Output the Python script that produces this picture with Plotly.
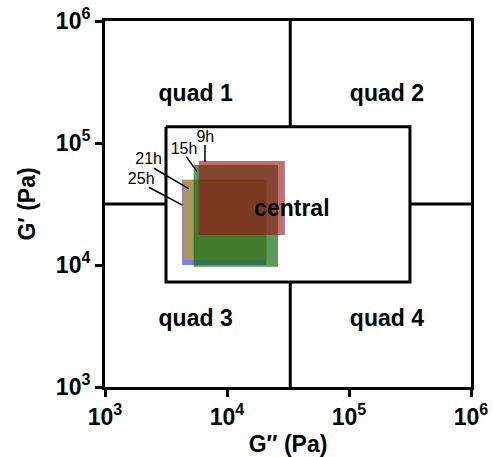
import plotly.graph_objects as go

# ---- data ----
FONT = "Liberation Sans, Arial, sans-serif"
tick_vals = [1e3, 1e4, 1e5, 1e6]
tick_text = ["10<sup>3</sup>", "10<sup>4</sup>", "10<sup>5</sup>", "10<sup>6</sup>"]

# quadrant dividers (G'', G')
divider_x = 33000
divider_y = 31600
# central region
central_x = [3162, 316000]
central_y = [136000, 7260]

# time-point boxes: G'' range, G' range (bottom -> top drawing order)
times = ["25h", "21h", "15h", "9h"]
gpp_lo = [4280, 4400, 5330, 5860]
gpp_hi = [21000, 21000, 26200, 29800]
gp_lo = [10000, 11000, 9680, 17600]
gp_hi = [49800, 50300, 66000, 71100]
box_colors = ["rgba(60,60,210,0.65)", "rgba(195,165,25,0.65)",
              "rgba(20,110,20,0.7)", "rgba(160,20,25,0.62)"]

# labels for time points: text position and leader-line endpoints
lab_x = [1980, 2280, 4440, 6650]
lab_y = [49800, 72100, 87100, 110000]
lead_x0 = [2290, 2520, 4640, 6600]
lead_y0 = [43400, 62100, 77300, 96400]
lead_x1 = [4310, 4880, 5680, 6600]
lead_y1 = [31000, 42000, 58200, 69900]

quad_labels = ["quad 1", "quad 2", "quad 3", "quad 4", "central"]
quad_x = [5530, 204600, 5530, 204600, 34000]
quad_y = [247000, 247000, 3540, 3540, 28200]

fig = go.Figure()
LW = 3

# quadrant divider lines (stopping at central box)
fig.add_trace(go.Scatter(x=[divider_x, divider_x], y=[1e6, central_y[0]], mode="lines",
                         line=dict(color="black", width=LW), showlegend=False, hoverinfo="skip"))
fig.add_trace(go.Scatter(x=[divider_x, divider_x], y=[central_y[1], 1e3], mode="lines",
                         line=dict(color="black", width=LW), showlegend=False, hoverinfo="skip"))
fig.add_trace(go.Scatter(x=[1e3, central_x[0]], y=[divider_y, divider_y], mode="lines",
                         line=dict(color="black", width=LW), showlegend=False, hoverinfo="skip"))
fig.add_trace(go.Scatter(x=[central_x[1], 1e6], y=[divider_y, divider_y], mode="lines",
                         line=dict(color="black", width=LW), showlegend=False, hoverinfo="skip"))
# central box
fig.add_trace(go.Scatter(x=[central_x[0], central_x[1], central_x[1], central_x[0], central_x[0]],
                         y=[central_y[0], central_y[0], central_y[1], central_y[1], central_y[0]],
                         mode="lines", line=dict(color="black", width=LW),
                         showlegend=False, hoverinfo="skip"))

# time boxes
for i, t in enumerate(times):
    fig.add_trace(go.Scatter(
        x=[gpp_lo[i], gpp_hi[i], gpp_hi[i], gpp_lo[i], gpp_lo[i]],
        y=[gp_hi[i], gp_hi[i], gp_lo[i], gp_lo[i], gp_hi[i]],
        mode="lines", fill="toself", fillcolor=box_colors[i],
        line=dict(width=0), name=t, showlegend=False, hoverinfo="skip"))

# leader lines
for i, t in enumerate(times):
    fig.add_trace(go.Scatter(x=[lead_x0[i], lead_x1[i]], y=[lead_y0[i], lead_y1[i]],
                             mode="lines", line=dict(color="black", width=1.5),
                             showlegend=False, hoverinfo="skip"))
fig.add_trace(go.Scatter(x=lab_x, y=lab_y, mode="text", text=times,
                         textfont=dict(family=FONT, size=16, color="black"),
                         showlegend=False, hoverinfo="skip"))

fig.add_trace(go.Scatter(x=quad_x, y=quad_y, mode="text", text=quad_labels,
                         textfont=dict(family=FONT, size=23, color="black", weight="bold"),
                         showlegend=False, hoverinfo="skip"))

axis_common = dict(type="log", range=[3, 6], tickvals=tick_vals, ticktext=tick_text,
                   showgrid=False, zeroline=False, showline=True, linecolor="black",
                   linewidth=LW, mirror=True, ticks="outside", ticklen=7, tickwidth=LW,
                   tickcolor="black", automargin=False,
                   tickfont=dict(family=FONT, size=23, color="black", weight="bold"))

fig.update_layout(
    width=493, height=457,
    margin=dict(l=105, r=22, t=21, b=70),
    plot_bgcolor="white", paper_bgcolor="white",
    xaxis=dict(**axis_common, title=dict(text="G\u2033 (Pa)", standoff=8,
               font=dict(family=FONT, size=23, color="black", weight="bold"))),
    yaxis=dict(**axis_common, title=dict(text="G\u2032 (Pa)", standoff=14,
               font=dict(family=FONT, size=23, color="black", weight="bold"))),
)

fig.write_html("out.html")
